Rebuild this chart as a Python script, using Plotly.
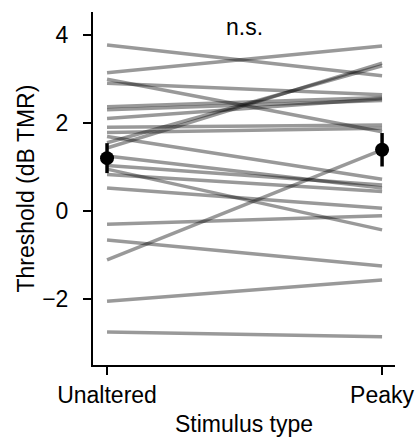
import plotly.graph_objects as go

# Per-subject thresholds (dB TMR)
unaltered = [3.77, 3.14, 2.99, 2.90, 2.37, 2.30, 2.10, 1.90, 1.78, 1.69, 1.55,
             1.43, 1.25, 1.03, 0.95, 0.83, 0.52, -0.30, -0.66, -1.11, -2.05, -2.75]
peaky = [3.07, 3.75, 1.80, 2.64, 2.58, 2.51, 2.55, 1.95, 1.88, 0.72, 3.30,
         3.36, 0.52, 0.59, -0.43, 0.44, 0.06, -0.11, -1.25, 1.39, -1.57, -2.86]

conditions = ["Unaltered", "Peaky"]
cond_pos = [0, 1]
group_mean = [1.20, 1.39]
group_err = [0.34, 0.38]
yticks = [-2, 0, 2, 4]

FONT = "Arial, Liberation Sans, Helvetica, sans-serif"
FS = 23

fig = go.Figure()
for a, b in zip(unaltered, peaky):
    fig.add_trace(go.Scatter(
        x=cond_pos, y=[a, b], mode="lines",
        line=dict(color="rgba(0,0,0,0.4)", width=3.5),
        hoverinfo="skip", showlegend=False))

fig.add_trace(go.Scatter(
    x=cond_pos, y=group_mean, mode="markers",
    marker=dict(color="black", size=14),
    error_y=dict(type="data", array=group_err, color="black", thickness=3.5, width=0),
    showlegend=False))

txtfont = dict(family=FONT, size=FS, color="black")
fig.add_annotation(x=0.5, y=3.84, xref="x", yref="y", text="n.s.", showarrow=False,
                   yanchor="bottom", font=txtfont)
# axis titles
fig.add_annotation(x=0.5, y=-0.168, xref="paper", yref="paper", text="Stimulus type",
                   showarrow=False, xanchor="center", yanchor="middle", font=txtfont)
fig.add_annotation(x=-0.225, y=0.5, xref="paper", yref="paper", text="Threshold (dB TMR)",
                   textangle=-90, showarrow=False, xanchor="center", yanchor="middle",
                   font=txtfont)

fig.update_layout(
    width=415, height=438,
    margin=dict(l=93, r=20, t=12, b=73),
    paper_bgcolor="white", plot_bgcolor="white",
    font=dict(family=FONT, size=FS, color="black"),
    xaxis=dict(range=[-0.051, 1.047], tickmode="array", tickvals=cond_pos,
               ticktext=conditions, showline=True, linecolor="black", linewidth=2,
               ticks="outside", ticklen=8, tickwidth=2, tickcolor="black",
               ticklabelstandoff=0, automargin=False,
               tickfont=txtfont, showgrid=False, zeroline=False),
    yaxis=dict(range=[-3.5, 4.52], tickmode="array", tickvals=yticks,
               showline=True, linecolor="black", linewidth=2,
               ticks="outside", ticklen=8, tickwidth=2, tickcolor="black",
               ticklabelstandoff=10, automargin=False,
               tickfont=txtfont, showgrid=False, zeroline=False),
)

fig.write_html("out.html")
